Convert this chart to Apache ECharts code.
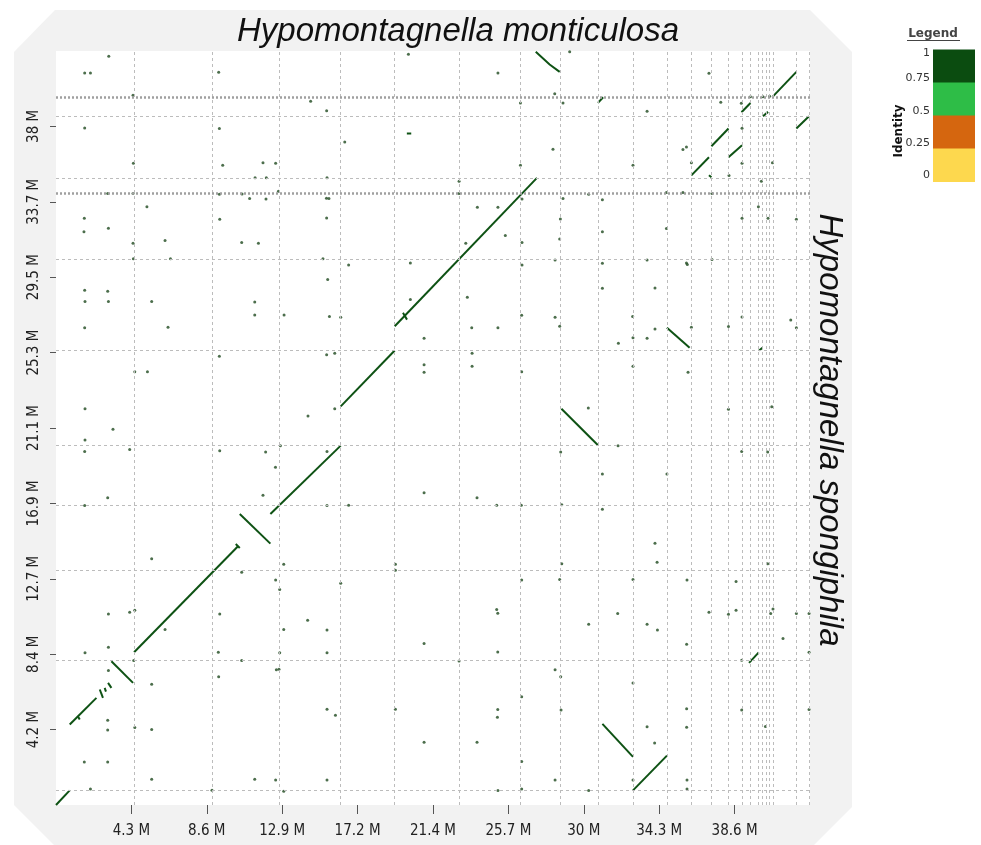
<!DOCTYPE html>
<html>
<head>
<meta charset="utf-8">
<script src="https://cdn.jsdelivr.net/npm/echarts@6/dist/echarts.min.js"></script>
<style>
html,body{margin:0;padding:0;background:#fff;}
#chart{width:981px;height:845px;}
</style>
</head>
<body>
<div id="chart"></div>
<script>
// ---- Data (values in megabases) ----
const xTitle = 'Hypomontagnella monticulosa';
const yTitle = 'Hypomontagnella spongiphila';
const xMax = 42.875;
const yMax = 42.175;
const xTickValues = [4.2875, 8.575, 12.8625, 17.15, 21.4375, 25.725, 30.0125, 34.3, 38.5875];
const xTickLabels = ['4.3 M', '8.6 M', '12.9 M', '17.2 M', '21.4 M', '25.7 M', '30 M', '34.3 M', '38.6 M'];
const yTickValues = [4.2175, 8.435, 12.6525, 16.87, 21.0875, 25.305, 29.5225, 33.74, 37.9575];
const yTickLabels = ['4.2 M', '8.4 M', '12.7 M', '16.9 M', '21.1 M', '25.3 M', '29.5 M', '33.7 M', '38 M'];

// contig boundaries
const xBounds = [4.435, 8.871, 12.720, 16.189, 19.260, 22.916, 26.408, 28.682, 30.843, 32.811, 34.767,
  36.131, 37.269, 38.235, 39.009, 39.486, 39.958, 40.146, 40.356, 40.527, 40.771, 42.102, 42.82];
const yBounds = [0.822, 8.094, 13.128, 16.764, 20.103, 25.417, 30.546, 35.077, 38.523];
const yRepeatRows = [34.199, 39.608];

// alignment segments (query position, target position)
const segments = [
  [[0, 0], [0.78, 0.82]],
  [[0.78, 4.50], [2.30, 5.99]],
  [[1.25, 4.95], [1.35, 4.78]],
  [[2.49, 6.46], [2.67, 5.99]],
  [[2.77, 6.55], [2.84, 6.34]],
  [[2.96, 6.83], [3.15, 6.55]],
  [[3.15, 8.04], [4.38, 6.83]],
  [[4.44, 8.54], [10.35, 14.47]],
  [[10.22, 14.60], [10.45, 14.38]],
  [[10.45, 16.28], [12.19, 14.62]],
  [[12.19, 16.28], [16.19, 20.10]],
  [[16.19, 22.30], [19.26, 25.42]],
  [[19.26, 26.78], [27.35, 35.08]],
  [[19.73, 27.53], [19.96, 27.15]],
  [[27.28, 42.13], [28.07, 41.42], [28.64, 41.01]],
  [[30.82, 39.27], [31.11, 39.59]],
  [[36.13, 35.22], [37.13, 36.23]],
  [[37.13, 35.22], [37.27, 35.11]],
  [[37.27, 36.85], [38.24, 37.84]],
  [[38.24, 36.23], [39.01, 36.90]],
  [[38.98, 38.75], [39.49, 39.27]],
  [[40.20, 38.52], [40.49, 38.77]],
  [[40.77, 39.64], [42.10, 41.01]],
  [[42.10, 37.84], [42.82, 38.52]],
  [[34.74, 26.69], [36.03, 25.57]],
  [[39.98, 25.42], [40.17, 25.57]],
  [[28.74, 22.16], [30.82, 20.12]],
  [[31.07, 4.54], [32.81, 2.69]],
  [[32.81, 0.82], [34.74, 2.76]],
  [[39.41, 7.95], [39.96, 8.54]],
  [[19.95, 37.56], [20.20, 37.56]]
];

// short matches (dots)
const dots = [
  [3.00,41.88],[1.63,40.95],[1.96,40.95],[9.25,40.98],[4.38,39.70],[14.48,39.36],[15.39,38.83],[1.63,37.87],
  [9.29,37.84],[16.42,37.09],[4.40,35.89],[9.48,35.78],[11.77,35.92],[12.49,35.89],[11.32,35.09],[11.96,35.08],
  [15.41,35.09],[2.94,34.20],[4.38,34.20],[9.29,34.16],[10.58,34.18],[11.01,33.92],[11.94,33.90],[12.65,34.33],
  [15.38,33.94],[15.52,33.92],[5.17,33.46],[1.61,32.82],[9.31,32.76],[15.39,32.84],[1.59,32.07],[2.98,32.26],
  [4.38,31.42],[6.20,31.57],[10.56,31.47],[11.51,31.42],[4.40,30.55],[6.51,30.55],[15.18,30.55],[16.64,30.21],
  [20.15,30.32],[15.45,29.40],[1.63,28.79],[2.94,28.73],[1.65,28.16],[2.98,28.16],[5.44,28.16],[11.30,28.14],
  [20.15,28.27],[11.30,27.41],[12.97,27.41],[15.55,27.32],[16.19,27.28],[1.63,26.69],[6.37,26.72],[20.93,26.11],
  [9.29,25.10],[15.39,25.19],[15.85,25.27],[4.48,24.23],[5.20,24.23],[20.93,24.63],[20.93,24.20],[1.65,22.17],
  [14.33,21.76],[15.85,22.16],[3.24,21.02],[20.04,41.99],
  [1.65,20.42],[1.63,19.78],[4.19,19.88],[9.31,19.82],[11.92,19.75],[12.76,20.10],[15.41,19.78],[12.48,18.89],
  [2.94,17.18],[11.77,17.32],[1.63,16.75],[15.41,16.75],[16.64,16.76],[20.93,17.46],[5.44,13.77],[12.95,13.46],
  [19.30,13.46],[10.56,13.02],[19.30,13.13],[12.49,12.59],[12.72,12.05],[16.19,12.40],[2.98,10.69],[4.19,10.78],
  [4.48,10.89],[9.31,10.69],[14.31,10.33],[6.20,9.81],[12.95,9.81],[15.41,9.79],[20.93,9.03],[1.65,8.51],
  [2.98,8.82],[9.23,8.54],[12.72,8.51],[15.41,8.52],[4.42,8.08],[10.56,8.08],[2.98,7.52],[5.44,6.75],
  [9.25,7.17],[12.53,7.57],[12.68,7.59],[15.41,5.35],[15.89,5.02],[19.30,5.35],[2.94,4.74],[2.94,4.20],
  [4.48,4.33],[5.44,4.22],[20.93,3.51],[1.61,2.41],[2.94,2.41],[5.44,1.44],[11.30,1.44],[12.49,1.40],
  [15.41,1.40],[1.96,0.90],[8.87,0.82],[12.95,0.77],
  [29.21,42.13],[25.13,40.95],[37.13,40.93],[28.36,39.78],[26.41,39.27],[28.83,39.27],[33.61,38.80],[37.80,39.31],
  [38.97,39.25],[39.49,39.61],[40.20,39.61],[40.58,39.64],[39.01,37.85],[28.26,36.68],[35.65,36.66],[35.85,36.81],
  [26.41,35.78],[32.81,35.78],[36.13,35.92],[39.01,35.89],[40.74,35.93],[22.92,34.89],[38.27,35.21],[40.11,34.89],
  [22.92,34.20],[30.29,34.16],[34.71,34.26],[35.65,34.26],[37.30,34.20],[23.96,33.43],[25.13,33.43],[26.50,33.90],
  [28.83,33.92],[31.07,33.85],[39.94,33.47],[25.55,31.85],[23.30,31.42],[28.68,32.78],[28.64,31.66],[26.50,31.47],
  [31.07,32.06],[34.71,32.24],[39.01,32.82],[40.49,32.82],[42.10,32.76],[28.38,30.49],[31.07,30.30],[33.61,30.49],
  [35.85,30.32],[35.90,30.23],[37.30,30.51],[26.50,30.21],[23.39,28.40],[34.06,28.92],[31.07,28.90],[26.48,27.39],
  [28.38,27.28],[32.79,27.32],[39.01,27.30],[41.78,27.13],[23.64,26.69],[25.13,26.69],[28.64,26.78],[34.06,26.63],
  [36.13,26.72],[38.24,26.76],[42.10,26.70],[31.98,25.83],[32.81,26.13],[33.61,26.11],[23.66,25.27],[23.66,24.54],
  [32.81,24.54],[26.48,24.23],[35.94,24.20],[30.27,22.21],[38.24,22.13],[40.70,22.27],
  [31.96,20.10],[28.70,19.75],[38.99,19.78],[40.47,19.75],[31.07,18.52],[34.74,18.52],[23.94,17.19],[25.06,16.76],
  [26.46,16.76],[28.76,16.79],[31.07,16.54],[34.06,14.64],[34.18,13.58],[28.76,13.49],[40.47,13.50],[26.48,12.59],
  [28.64,12.61],[32.81,12.61],[35.88,12.59],[38.67,12.50],[25.06,10.93],[25.12,10.72],[31.94,10.71],[30.29,10.11],
  [33.61,10.11],[34.20,9.79],[37.13,10.78],[38.24,10.67],[38.67,10.89],[40.64,10.71],[40.77,10.97],[42.10,10.71],
  [42.82,10.71],[41.34,9.31],[35.86,8.99],[25.12,8.56],[22.92,8.06],[38.99,8.09],[42.82,8.54],[28.38,7.56],
  [28.70,7.17],[32.81,6.83],[26.48,6.06],[25.12,5.34],[25.10,4.91],[28.72,5.32],[35.86,5.38],[38.99,5.32],
  [42.82,5.34],[33.61,4.37],[35.86,4.35],[40.34,4.39],[23.94,3.51],[34.04,3.47],[26.48,2.43],[28.38,1.40],
  [32.81,1.40],[35.88,1.40],[25.13,0.81],[26.48,0.90],[30.29,0.81],[35.88,0.90]
];

// identity legend
const legendStops = ['1', '0.75', '0.5', '0.25', '0'];
const legendColors = ['#0b4c10', '#2ebd47', '#d5660f', '#fdd84e'];

// ---- Chart ----
const chart = echarts.init(document.getElementById('chart'), null, {renderer: 'canvas'});
const labelFont = '"DejaVu Sans Condensed", "DejaVu Sans", sans-serif';
function pick(vals, labels, v) {
  let best = 0;
  for (let i = 1; i < vals.length; i++) if (Math.abs(vals[i] - v) < Math.abs(vals[best] - v)) best = i;
  return labels[best];
}

const G = {left: 56, top: 51, w: 754, h: 754};
const graphic = [
  {type: 'polygon', z: 0, silent: true, shape: {points: [[55, 10], [810, 10], [852, 52], [852, 807], [813, 846], [55, 846], [14, 805], [14, 52]]}, style: {fill: '#f2f2f2'}},
  {type: 'rect', z: 0, silent: true, shape: {x: G.left, y: G.top, width: G.w, height: G.h}, style: {fill: '#ffffff'}},
  {type: 'text', z: 5, x: 458, y: 32, style: {text: xTitle, font: 'italic 33px "Liberation Sans", Arial, sans-serif', fill: '#111', align: 'center', verticalAlign: 'middle'}},
  {type: 'text', z: 5, x: 829, y: 430, rotation: -Math.PI / 2, style: {text: yTitle, font: 'italic 33px "Liberation Sans", Arial, sans-serif', fill: '#111', align: 'center', verticalAlign: 'middle'}},
  {type: 'text', z: 5, x: 933, y: 34, style: {text: 'Legend', font: 'bold 12px "DejaVu Sans", sans-serif', fill: '#444', align: 'center', verticalAlign: 'middle'}},
  {type: 'line', z: 5, shape: {x1: 907, y1: 40.5, x2: 960, y2: 40.5}, style: {stroke: '#444', lineWidth: 1}},
  {type: 'text', z: 5, x: 899, y: 131, rotation: Math.PI / 2, style: {text: 'Identity', font: 'bold 12px "DejaVu Sans", sans-serif', fill: '#111', align: 'center', verticalAlign: 'middle'}}
];
const blockTop = 49.5, blockH = 33, blockX = 933, blockW = 42;
legendColors.forEach((c, i) => {
  graphic.push({type: 'rect', z: 5, shape: {x: blockX, y: blockTop + i * blockH, width: blockW, height: blockH + 0.5}, style: {fill: c}});
});
const stopY = [53, 78, 111, 143, 175];
legendStops.forEach((s, i) => {
  graphic.push({type: 'text', z: 5, x: 930, y: stopY[i], style: {text: s, font: '11px "DejaVu Sans", sans-serif', fill: '#333', align: 'right', verticalAlign: 'middle'}});
});

const option = {
  animation: false,
  backgroundColor: '#ffffff',
  graphic: graphic,
  grid: {left: G.left, top: G.top, width: G.w, height: G.h, containLabel: false},
  xAxis: {
    type: 'value', min: 0, max: xMax, offset: 2,
    axisLine: {show: false},
    splitLine: {show: false},
    axisTick: {show: true, length: 9, customValues: xTickValues, lineStyle: {color: '#555', width: 1}},
    axisLabel: {customValues: xTickValues, margin: 17, fontSize: 15, fontFamily: labelFont, color: '#222',
      formatter: v => pick(xTickValues, xTickLabels, v)}
  },
  yAxis: {
    type: 'value', min: 0, max: yMax, offset: 1,
    axisLine: {show: false},
    splitLine: {show: false},
    axisTick: {show: true, length: 6, customValues: yTickValues, lineStyle: {color: '#555', width: 1}},
    axisLabel: {customValues: yTickValues, margin: 13, rotate: 90, fontSize: 15, fontFamily: labelFont, color: '#222',
      formatter: v => pick(yTickValues, yTickLabels, v)}
  },
  series: [
    {
      type: 'scatter', name: 'grid', z: 1, silent: true, data: [],
      markLine: {
        silent: true, symbol: 'none', animation: false, label: {show: false},
        lineStyle: {color: '#bcbcbc', type: [3, 3], width: 1},
        data: xBounds.map(v => ({xAxis: v})).concat(yBounds.map(v => ({yAxis: v})))
      }
    },
    {
      type: 'scatter', name: 'repeats', z: 1, silent: true, data: [],
      markLine: {
        silent: true, symbol: 'none', animation: false, label: {show: false},
        lineStyle: {color: '#a0a0a0', type: [2, 2], width: 2.5},
        data: yRepeatRows.map(v => ({yAxis: v}))
      }
    },
    {
      type: 'lines', name: 'alignments', coordinateSystem: 'cartesian2d', polyline: true, z: 3, silent: true,
      lineStyle: {color: '#0e5214', width: 2, opacity: 1},
      data: segments.map(s => ({coords: s}))
    },
    {
      type: 'scatter', name: 'matches', z: 4, silent: true, symbol: 'circle', symbolSize: 3,
      itemStyle: {color: '#1f4a1f'},
      data: dots
    }
  ]
};
chart.setOption(option);
</script>
</body>
</html>
